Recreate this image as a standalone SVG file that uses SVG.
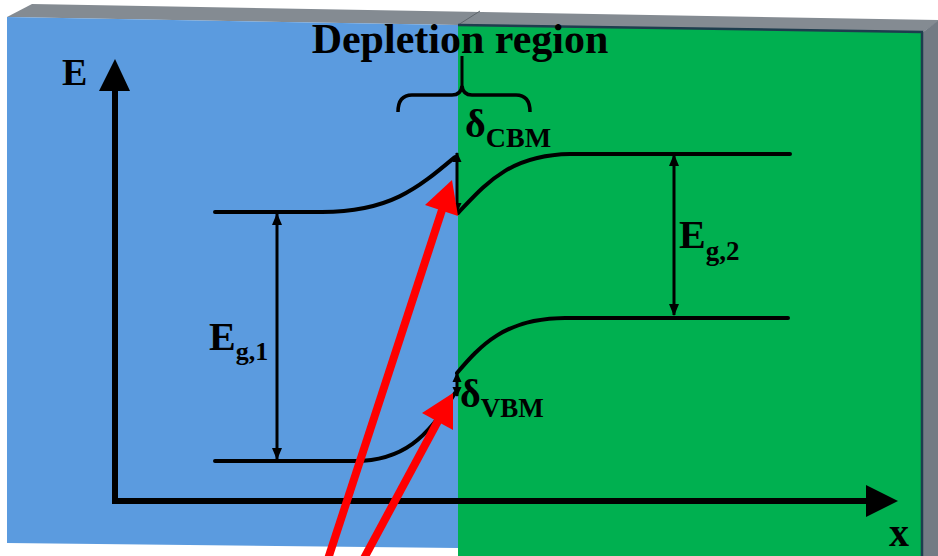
<svg xmlns="http://www.w3.org/2000/svg" width="938" height="556" viewBox="0 0 938 556">
  <style>
    .t { font-family: "Liberation Serif", "Times New Roman", serif; font-weight: bold; fill: #000; }
    .band { fill: none; stroke: #000; stroke-width: 4; stroke-linecap: round; }
    .gap { fill: none; stroke: #000; stroke-width: 3; }
    .ax { fill: none; stroke: #000; stroke-width: 6; }
    .red { fill: none; stroke: #ff0000; stroke-width: 8; }
  </style>
  <defs>
    <marker id="ah" markerUnits="userSpaceOnUse" markerWidth="12" markerHeight="12" refX="11" refY="6" orient="auto-start-reverse">
      <path d="M0,1 L12,6 L0,11 z" fill="#000"/>
    </marker>
    <marker id="ahs" markerUnits="userSpaceOnUse" markerWidth="10" markerHeight="10" refX="9" refY="5" orient="auto-start-reverse">
      <path d="M0,0.5 L10,5 L0,9.5 z" fill="#000"/>
    </marker>
  </defs>

  <!-- slab -->
  <g id="slab">
    <rect width="938" height="556" fill="#ffffff"/>
    <polygon points="7,17 32,4 938,20 938,22 923,32 458,25" fill="#848b92"/>
    <line x1="458" y1="25" x2="480" y2="11" stroke="#5f666c" stroke-width="1"/>
    <polygon points="923,32 938,21 938,556 923,556" fill="#737b84"/>
    <polygon points="7,17 458,25 458,548 7,543" fill="#5b9bdf"/>
    <polygon points="458,25 923,32 923,556 458,556" fill="#00b050"/>
    <polyline points="458,25 922,32 922,556" fill="none" stroke="#1e3d4e" stroke-width="2.5"/>
  </g>

  <!-- axes -->
  <g id="axes">
    <line class="ax" x1="115" y1="501" x2="115" y2="88"/>
    <polygon points="115,59 99,91 130,91" fill="#000"/>
    <line class="ax" x1="112" y1="501" x2="870" y2="501"/>
    <polygon points="898,501 866,485 866,517" fill="#000"/>
    <text class="t" x="62" y="85" font-size="38">E</text>
    <text class="t" x="889" y="546" font-size="40">x</text>
  </g>

  <!-- depletion region -->
  <g id="depletion">
    <text class="t" x="460" y="53" font-size="42" text-anchor="middle">Depletion region</text>
    <path d="M398,112 Q398,95 412,95 L452,95 Q461,95 462,86 Q463,95 472,95 L516,95 Q530,95 530,112" fill="none" stroke="#000" stroke-width="3.5"/>
    <line x1="462" y1="88" x2="462" y2="56" stroke="#000" stroke-width="3"/>
  </g>

  <!-- bands -->
  <g id="bands">
    <path class="band" d="M215,212 H322 C390,212 418,188 455,157"/>
    <path class="band" d="M458,213 C484,186 508,155 570,154 H790"/>
    <path class="band" d="M215,461 H355 C402,461 428,438 455,393"/>
    <path class="band" d="M457,373 C480,346 505,318 565,318 H788"/>
  </g>

  <!-- gap arrows -->
  <g id="gaps">
    <line class="gap" x1="277" y1="214" x2="277" y2="459" marker-start="url(#ah)" marker-end="url(#ah)"/>
    <line class="gap" x1="674" y1="155" x2="674" y2="315" marker-start="url(#ah)" marker-end="url(#ah)"/>
    <line class="gap" x1="457" y1="153" x2="457" y2="212" marker-start="url(#ahs)" marker-end="url(#ahs)"/>
    <line class="gap" x1="457" y1="373" x2="457" y2="396" marker-start="url(#ahs)" marker-end="url(#ahs)"/>
  </g>

  <!-- labels -->
  <g id="labels">
    <text class="t" x="209" y="350" font-size="40">E<tspan font-size="26" dy="10">g,1</tspan></text>
    <text class="t" x="679" y="248" font-size="40">E<tspan font-size="27" dy="12">g,2</tspan></text>
    <text class="t" x="465" y="137" font-size="40">δ<tspan font-size="28" dy="10">CBM</tspan></text>
    <text class="t" x="460" y="407" font-size="40">δ<tspan font-size="27" dy="10">VBM</tspan></text>
  </g>

  <!-- red arrows -->
  <g id="connectors">
    <line class="red" x1="327" y1="562" x2="442" y2="210"/>
    <polygon points="452,180 458,216 425,205" fill="#ff0000"/>
    <line class="red" x1="362" y1="562" x2="438" y2="421"/>
    <polygon points="453,393 453,430 422,413" fill="#ff0000"/>
  </g>
</svg>
